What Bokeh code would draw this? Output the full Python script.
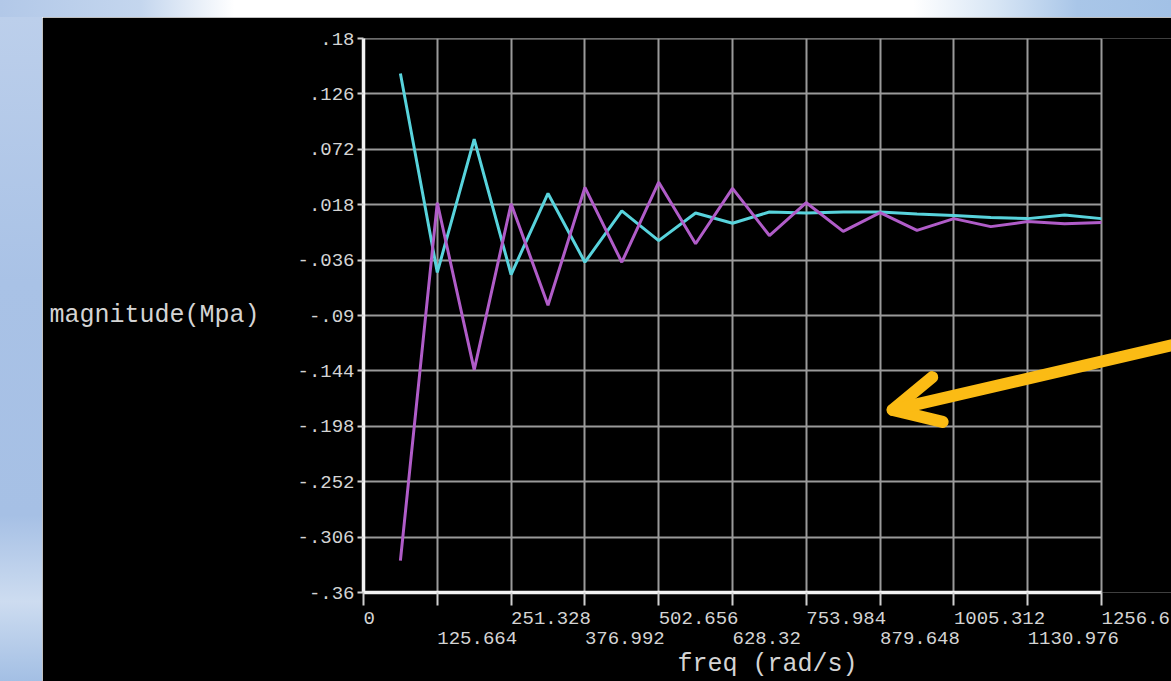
from bokeh.plotting import figure
from bokeh.models import Range1d, FixedTicker, LinearAxis, Arrow, OpenHead, Div
from bokeh.layouts import column, row
from bokeh.embed import file_html
from bokeh.resources import INLINE

# harmonic response: stress magnitude versus excitation frequency
freq = [62.832, 125.664, 188.496, 251.328, 314.159, 376.991, 439.823, 502.655,
        565.487, 628.319, 691.150, 753.982, 816.814, 879.646, 942.478, 1005.310,
        1068.142, 1130.973, 1193.805, 1256.637]
stress_cyan = [0.146, -0.048, 0.082, -0.050, 0.029, -0.038, 0.012, -0.017,
               0.010, 0.000, 0.011, 0.010, 0.011, 0.011, 0.009, 0.0075,
               0.0055, 0.0045, 0.008, 0.0045]
stress_magenta = [-0.329, 0.020, -0.143, 0.019, -0.080, 0.035, -0.038, 0.040,
                  -0.020, 0.034, -0.012, 0.020, -0.008, 0.0104, -0.007, 0.0045,
                  -0.0033, 0.0016, -0.0004, 0.0006]

x_ticks = [0, 125.664, 251.328, 376.992, 502.656, 628.32, 753.984, 879.648,
           1005.312, 1130.976, 1256.64]
x_tick_labels = ["0", "125.664", "251.328", "376.992", "502.656", "628.32",
                 "753.984", "879.648", "1005.312", "1130.976", "1256.6"]
y_ticks = [0.18, 0.126, 0.072, 0.018, -0.036, -0.09, -0.144, -0.198, -0.252,
           -0.306, -0.36]
y_tick_labels = [".18", ".126", ".072", ".018", "-.036", "-.09", "-.144",
                 "-.198", "-.252", "-.306", "-.36"]

# callout arrow (tail, tip) in data units
arrow_tail = (1375.8, -0.119)
arrow_tip = (901.0, -0.182)

X_LO, X_HI = 0.0, 1256.64
Y_LO, Y_HI = -0.36, 0.1801
AXIS_PX = 738          # pixels between 0 and X_HI
FRAME_PX = 808         # frame runs on to the right edge of the page
x_view_hi = X_HI * FRAME_PX / AXIS_PX

MONO = "Liberation Mono"
TICK_SIZE = 19
CHAR_W = 0.6 * TICK_SIZE
TEXT = "#d4d4d4"
GRID = "#9a9a9a"
AXIS = "#f2f2f2"

p = figure(width=1129, height=664,
           x_range=Range1d(X_LO, x_view_hi), y_range=Range1d(Y_LO, Y_HI),
           output_backend="svg", toolbar_location=None,
           min_border_left=321, min_border_right=0,
           min_border_top=21, min_border_bottom=88,
           background_fill_color="black", border_fill_color="black",
           outline_line_color=None, margin=0)

# grid
p.xgrid.ticker = FixedTicker(ticks=x_ticks)
p.ygrid.ticker = FixedTicker(ticks=y_ticks)
for g in (p.xgrid, p.ygrid):
    g.grid_line_color = GRID
    g.grid_line_width = 2
p.ygrid.cross_bounds = (X_LO, X_HI)

# y axis
ya = p.yaxis[0]
ya.ticker = FixedTicker(ticks=y_ticks)
ya.major_label_overrides = dict(zip(y_ticks, y_tick_labels))
ya.axis_line_color = AXIS
ya.axis_line_width = 3.5
ya.major_tick_out = 6
ya.major_tick_in = 0
ya.minor_tick_out = 0
ya.major_tick_line_color = "#cfcfcf"
ya.major_tick_line_width = 2
ya.major_label_standoff = 3
ya.major_label_text_font = MONO
ya.major_label_text_font_size = f"{TICK_SIZE}px"
ya.major_label_text_color = TEXT
ya.axis_label = "magnitude(Mpa)"
ya.axis_label_orientation = "horizontal"
ya.axis_label_standoff = 35
ya.axis_label_text_font = MONO
ya.axis_label_text_font_size = "25px"
ya.axis_label_text_font_style = "normal"
ya.axis_label_text_color = TEXT

# x axis: line and tick marks only
xa = p.xaxis[0]
xa.ticker = FixedTicker(ticks=x_ticks)
xa.bounds = (X_LO, X_HI)
xa.axis_line_color = AXIS
xa.axis_line_width = 3.5
xa.major_tick_out = 13
xa.major_tick_in = 0
xa.minor_tick_out = 0
xa.major_tick_line_color = "#cfcfcf"
xa.major_tick_line_width = 2
xa.major_label_standoff = 0
xa.major_label_text_font_size = "1px"
xa.major_label_text_color = None

# x tick labels start at their tick, alternating between two rows
px_to_data = X_HI / AXIS_PX


def label_row(indices):
    pos, text = [], {}
    for i in indices:
        lab = x_tick_labels[i]
        c = x_ticks[i] + len(lab) * CHAR_W / 2 * px_to_data
        pos.append(c)
        text[c] = lab
    return pos, text


def label_axis(indices, standoff):
    pos, text = label_row(indices)
    ax = LinearAxis(ticker=FixedTicker(ticks=pos), major_label_overrides=text,
                    axis_line_color=None, major_tick_line_color=None,
                    minor_tick_line_color=None, major_tick_out=0,
                    major_tick_in=0, minor_tick_out=0, minor_tick_in=0,
                    major_label_standoff=standoff,
                    major_label_text_font=MONO,
                    major_label_text_font_size=f"{TICK_SIZE}px",
                    major_label_text_color=TEXT)
    return ax


upper = label_axis(range(0, len(x_ticks), 2), 6)
lower = label_axis(range(1, len(x_ticks), 2), 5)
lower.axis_label = "freq (rad/s)"
lower.axis_label_standoff = 3
lower.axis_label_text_font = MONO
lower.axis_label_text_font_size = "25px"
lower.axis_label_text_font_style = "normal"
lower.axis_label_text_color = TEXT
p.add_layout(upper, "below")
p.add_layout(lower, "below")

# response curves
p.line(freq, stress_cyan, line_color="#58d3dc", line_width=3)
p.line(freq, stress_magenta, line_color="#b05cc8", line_width=3)

# callout arrow
ORANGE = "#fbbb14"
p.add_layout(Arrow(end=OpenHead(size=46, line_color=ORANGE, line_width=12,
                                line_cap="round", line_join="round"),
                   x_start=arrow_tail[0], y_start=arrow_tail[1],
                   x_end=arrow_tip[0], y_end=arrow_tip[1],
                   line_color=ORANGE, line_width=12, line_cap="round"))

# pale blue desktop surround
top_band = Div(width=1171, height=17, margin=0, styles={
    "background": "linear-gradient(to right, #b2c8e8 0%, #c4d6ee 12%, #ffffff 20%, "
                  "#ffffff 78%, #d8e6f5 85%, #a9c6e8 92%, #a2c1e6 100%)"})
left_band = Div(width=42, height=664, margin=0, styles={
    "background": "linear-gradient(to bottom, #bccfeb 0%, #a9c2e6 40%, #a6c0e5 75%, "
                  "#cddcf0 88%, #a3bfe4 100%)"})

layout = column(top_band, row(left_band, p, spacing=0, margin=0), spacing=0, margin=0)

open("out.html", "w").write(file_html(layout, INLINE))
